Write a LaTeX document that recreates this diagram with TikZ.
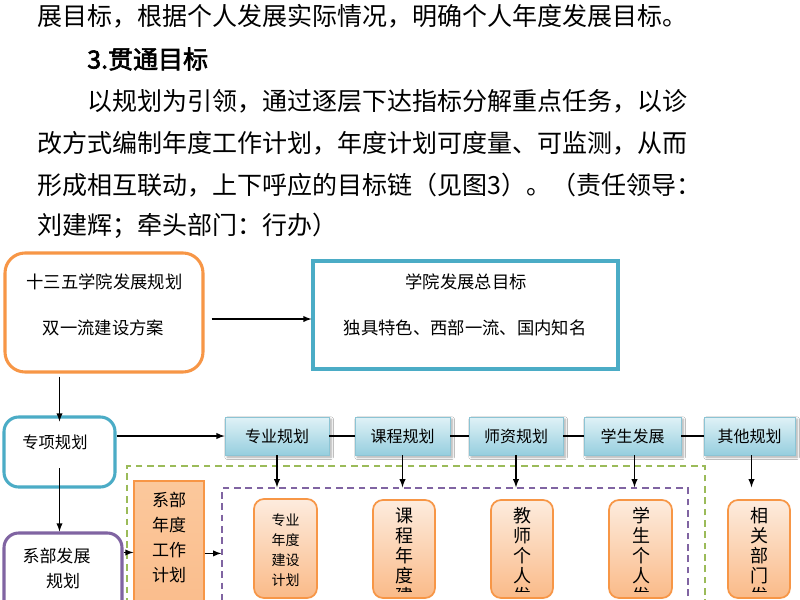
\documentclass[tikz,border=0pt]{standalone}
\usepackage{fontspec}
\newfontfamily\cjk{Noto Sans CJK SC}
\newfontfamily\cjkbold[FakeBold=2.5]{Noto Sans CJK SC}
\usepackage{tikz}
\usetikzlibrary{calc}
\usetikzlibrary{shadows.blur}

\definecolor{orgline}{RGB}{247,150,70}
\definecolor{tealline}{RGB}{75,172,198}
\definecolor{purline}{RGB}{128,100,162}
\definecolor{grnline}{RGB}{155,187,89}
\definecolor{bluetop}{RGB}{224,242,247}
\definecolor{bluebot}{RGB}{150,206,222}
\definecolor{blueedge}{RGB}{140,196,212}
\definecolor{orgtop}{RGB}{253,236,222}
\definecolor{orgbot}{RGB}{250,186,136}
\definecolor{orgmid}{RGB}{251,200,156}

\tikzset{
  arr/.style={-latex, line width=1.1pt},
  bodytext/.style={font=\cjk\fontsize{18.75}{20}\selectfont, inner sep=0pt, anchor=west},
  boxtext/.style={font=\cjk\fontsize{13}{15}\selectfont, inner sep=0pt},
  coltext/.style={font=\cjk\fontsize{13.5}{15}\selectfont, inner sep=0pt, align=center, anchor=north},
  framebox/.style={draw, line width=2.3pt, fill=white},
  topbox/.style={draw=blueedge, line width=0.6pt, top color=bluetop, bottom color=bluebot,
    minimum height=28.5pt, inner sep=0pt, font=\cjk\fontsize{12}{14}\selectfont,
    blur shadow={shadow blur steps=6, shadow xshift=1.6pt, shadow yshift=-1.6pt, shadow opacity=35}},
  yearbox/.style={draw=orgline, line width=1.3pt, top color=orgtop, bottom color=orgbot,
    rounded corners=7.5pt, minimum height=73.5pt, inner sep=0pt},
  dashframe/.style={draw, line width=1.1pt, dash pattern=on 5pt off 3.5pt, inner sep=0pt}
}

\begin{document}
\lineskiplimit=-100pt
\begin{tikzpicture}[x=0.75pt,y=0.75pt,yscale=-1,xscale=1]
\clip (0,0) rectangle (800,600);
\fill [white] (0,0) rectangle (800,600);

% Text Node
\draw (37,16) node [bodytext] (ln1) {展目标，根据个人发展实际情况，明确个人年度发展目标。};
% Text Node
\draw (87,59) node [bodytext, font=\cjkbold\fontsize{18.75}{20}\selectfont] (ln2) {3.贯通目标};
% Text Node
\draw (87,101) node [bodytext] (ln3) {以规划为引领，通过逐层下达指标分解重点任务，以诊};
\draw (37,143) node [bodytext] (ln4) {改方式编制年度工作计划，年度计划可度量、可监测，从而};
\draw (37,185) node [bodytext] (ln5) {形成相互联动，上下呼应的目标链（见图3）。（责任领导：};
\draw (37,226) node [bodytext] (ln6) {刘建辉；牵头部门：行办）};

%Shape: Dashed Frames
\draw (416,553) node [dashframe, draw=grnline, minimum width=433.5pt, minimum height=130.5pt] (grnframe) {};
\draw (455,564) node [dashframe, draw=purline, minimum width=349.5pt, minimum height=114pt] (purframe) {};

%Shape: Rounded Rect
\draw (104,312.5) node [framebox, draw=orgline, rounded corners=15pt, minimum width=148.5pt, minimum height=89.25pt] (plan) {};
%Shape: Rectangle
\draw (465.5,315) node [framebox, draw=tealline, minimum width=228.75pt, minimum height=81pt] (goal) {};
%Shape: Rounded Rect
\draw (59.5,452) node [framebox, draw=tealline, rounded corners=11pt, minimum width=83.25pt, minimum height=52.5pt] (special) {};
\draw (63,580) node [framebox, draw=purline, rounded corners=11pt, minimum width=88.5pt, minimum height=70.5pt] (deptdev) {};

% Text Node
\draw (104.5,282) node [boxtext] (planA) {十三五学院发展规划};
\draw (103.5,328) node [boxtext] (planB) {双一流建设方案};
\draw (466,282) node [boxtext] (goalA) {学院发展总目标};
\draw (465,328) node [boxtext] (goalB) {独具特色、西部一流、国内知名};
\draw (55,442) node [boxtext, font=\cjk\fontsize{12.2}{14}\selectfont] (specialT) {专项规划};
\draw (56.5,556) node [boxtext, font=\cjk\fontsize{12.75}{14}\selectfont] (deptdevA) {系部发展};
\draw (63,581) node [boxtext, font=\cjk\fontsize{12.75}{14}\selectfont] (deptdevB) {规划};

%Shape: Top Row
\draw (277,436) node [topbox, minimum width=78pt] (major) {专业规划};
\draw (402.5,436) node [topbox, minimum width=71.25pt] (course) {课程规划};
\draw (516,436) node [topbox, minimum width=70.5pt] (teacher) {师资规划};
\draw (632.5,436) node [topbox, minimum width=72.75pt] (student) {学生发展};
\draw (749.5,436) node [topbox, minimum width=68.25pt] (other) {其他规划};

%Shape: Year Plans
\draw (169,560.5) node [yearbox, top color=orgmid, rounded corners=0pt, line width=0.9pt, minimum width=52.5pt, minimum height=119.25pt] (deptyear) {};
\draw (285.5,548.5) node [yearbox, minimum width=47.25pt, minimum height=74.25pt] (majoryr) {};
\draw (404,549) node [yearbox, minimum width=46.5pt] (courseyr) {};
\draw (522,549) node [yearbox, minimum width=46.5pt] (teacheryr) {};
\draw (640.5,549) node [yearbox, minimum width=47.25pt] (studentyr) {};
\draw (759,549) node [yearbox, minimum width=46.5pt] (otheryr) {};

% Text Node
\draw (169,491.5) node [coltext, font=\cjk\fontsize{12.75}{18.75}\selectfont] (deptyearT) {系部\\年度\\工作\\计划};
\draw (285.5,513) node [coltext, font=\cjk\fontsize{10.5}{15}\selectfont] (majoryrT) {专业\\年度\\建设\\计划};
\begin{scope}
\clip (0,0) rectangle (800,591);
\draw (404,507) node [coltext] (courseyrT) {课\\程\\年\\度\\建};
\draw (522,507) node [coltext] (teacheryrT) {教\\师\\个\\人\\发};
\draw (641,507) node [coltext] (studentyrT) {学\\生\\个\\人\\发};
\draw (759,507) node [coltext] (otheryrT) {相\\关\\部\\门\\发};
\end{scope}

%Straight Lines
\draw [arr] ($(plan.east)+(7,6.5)$) -- ($(goal.west)+(0,4)$);
\draw [arr] ($(special.north |- plan.south)+(0,3)$) -- ($(special.north)+(0,6)$);
\draw [arr] ($(special.center)+(0,16)$) -- (special.center |- deptdev.north);
\draw [arr] (special.east |- major.west) -- (major.west);
\draw [line width=0.9pt] (major.east) -- (course.west);
\draw [line width=0.9pt] (course.east) -- (teacher.west);
\draw [line width=0.9pt] (teacher.east) -- (student.west);
\draw [line width=0.9pt] (student.east) -- (other.west);
\draw [arr] (major.south) -- (major.south |- purframe.north);
\draw [arr] (course.south) -- (course.south |- purframe.north);
\draw [arr] (teacher.south) -- (teacher.south |- purframe.north);
\draw [arr] ($(student.south)+(2,0)$) -- ($(student.south |- purframe.north)+(2,0)$);
\coordinate (otherend) at ($(other.south |- purframe.north)+(2,0)$);
\draw [arr] ($(other.south)+(2,0)$) -- (otherend);
\draw [arr] ($(deptdev.north east)+(0,21)$) coordinate (dd) -- (dd -| deptyear.west);
\draw [arr] ($(deptyear.north east)+(0,73)$) coordinate (dy) -- (dy -| purframe.west);

\end{tikzpicture}
\end{document}
